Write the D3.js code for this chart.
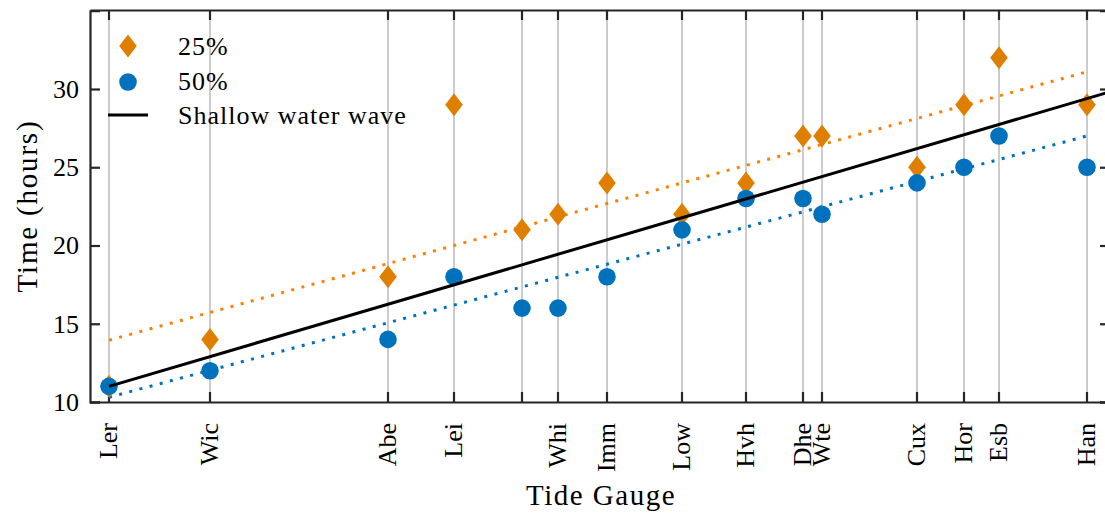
<!DOCTYPE html>
<html>
<head>
<meta charset="utf-8">
<script src="https://cdn.jsdelivr.net/npm/d3@7"></script>
<style>
  html, body { margin: 0; padding: 0; background: #fff; }
  svg { display: block; }
  text { font-family: "Liberation Serif", "Times New Roman", serif; fill: #000; }
</style>
</head>
<body>
<svg id="chart" width="1105" height="513"></svg>
<script>
// ---- data ----
const gauges   = ["Ler", "Wic", "Abe", "Lei", "", "Whi", "Imm", "Low", "Hvh", "Dhe", "Wte", "Cux", "Hor", "Esb", "Han"];
const distance = [0, 101, 279, 345, 413, 449, 498, 573, 637, 694, 713, 808, 855, 890, 978];
const time25   = [11, 14, 18, 29, 21, 22, 24, 22, 24, 27, 27, 25, 29, 32, 29];
const time50   = [11, 12, 14, 18, 16, 16, 18, 21, 23, 23, 22, 24, 25, 27, 25];
const fitX     = [0, 978];
const fit25    = [13.95, 31.1];
const fit50    = [10.3, 27.0];
const swX      = [0, 1001];
const swTime   = [11.0, 29.82];
const yTicks   = [10, 15, 20, 25, 30];
const legendLabels = ["25%", "50%", "Shallow water wave"];

// ---- layout ----
const svg = d3.select("#chart");
const L = 90, R = 1110, T = 10, B = 402;
const x = d3.scaleLinear().domain([-19, 1001]).range([L, R]);
const y = d3.scaleLinear().domain([10, 35]).range([B, T + 0.75]);

const cOrange = "#E07E00", cOrangeLine = "#FF8000", cBlue = "#0072BD", cAxis = "#262626";

svg.append("defs").append("clipPath").attr("id", "clip")
  .append("rect").attr("x", L).attr("y", T).attr("width", R - L).attr("height", B - T);

// grid lines
svg.append("g").selectAll("line").data(distance).join("line")
  .attr("x1", d => x(d)).attr("x2", d => x(d))
  .attr("y1", T).attr("y2", B)
  .attr("stroke", "#cccccc").attr("stroke-width", 2);

// axes
const gx = svg.append("g").attr("transform", `translate(0,${B})`)
  .call(d3.axisBottom(x).tickValues(distance).tickSize(0).tickFormat(""));
const gxTop = svg.append("g").attr("transform", `translate(0,${T})`)
  .call(d3.axisTop(x).tickValues(distance).tickSize(0).tickFormat(""));
const gy = svg.append("g").attr("transform", `translate(${L},0)`)
  .call(d3.axisLeft(y).tickValues(yTicks).tickSize(-10).tickPadding(11).tickFormat(d3.format("d")));
const gyR = svg.append("g").attr("transform", `translate(${R},0)`)
  .call(d3.axisRight(y).tickValues(yTicks).tickSize(-10).tickFormat(""));

[gx, gxTop, gy, gyR].forEach(g => {
  g.select(".domain").attr("stroke", cAxis).attr("stroke-width", 2.2);
  g.selectAll(".tick line").attr("stroke", cAxis).attr("stroke-width", 2.2);
});
gy.selectAll(".tick text").attr("font-size", 26).attr("font-family", "Liberation Serif").attr("fill", "#000");

// x ticks inward (bottom and top)
svg.append("g").selectAll("line").data(distance).join("line")
  .attr("x1", d => x(d)).attr("x2", d => x(d)).attr("y1", B).attr("y2", B - 10)
  .attr("stroke", cAxis).attr("stroke-width", 2.2);
svg.append("g").selectAll("line").data(distance).join("line")
  .attr("x1", d => x(d)).attr("x2", d => x(d)).attr("y1", T).attr("y2", T + 10)
  .attr("stroke", cAxis).attr("stroke-width", 2.2);

// x tick labels (rotated)
svg.append("g").selectAll("text").data(gauges.map((g, i) => ({g, d: distance[i]}))).join("text")
  .attr("transform", d => `translate(${x(d.d) + 8},423) rotate(-90)`)
  .attr("text-anchor", "end").attr("font-size", 26).text(d => d.g);

// axis titles
svg.append("text").attr("x", (L + R) / 2 + 1).attr("y", 505).attr("text-anchor", "middle")
  .attr("font-size", 29).attr("letter-spacing", 1.5).text("Tide Gauge");
svg.append("text").attr("transform", `translate(37,${(T + B) / 2}) rotate(-90)`)
  .attr("text-anchor", "middle").attr("font-size", 29).attr("letter-spacing", 1.8).text("Time (hours)");

const plot = svg.append("g").attr("clip-path", "url(#clip)");
const line = d3.line().x(d => x(d[0])).y(d => y(d[1]));

// fit lines (dotted)
plot.append("path").datum(fitX.map((d, i) => [d, fit25[i]])).attr("d", line)
  .attr("fill", "none").attr("stroke", cOrangeLine).attr("stroke-width", 3).attr("stroke-dasharray", "3 7.5");
plot.append("path").datum(fitX.map((d, i) => [d, fit50[i]])).attr("d", line)
  .attr("fill", "none").attr("stroke", cBlue).attr("stroke-width", 3).attr("stroke-dasharray", "3 7.5");

// markers
const diamond = "M0,-11.5L8.8,0L0,11.5L-8.8,0Z";
plot.append("g").selectAll("path").data(distance.map((d, i) => [d, time25[i]])).join("path")
  .attr("transform", d => `translate(${x(d[0])},${y(d[1])})`).attr("d", diamond).attr("fill", cOrange);
plot.append("g").selectAll("circle").data(distance.map((d, i) => [d, time50[i]])).join("circle")
  .attr("cx", d => x(d[0])).attr("cy", d => y(d[1])).attr("r", 8.8).attr("fill", cBlue);

// shallow water wave line
plot.append("path").datum(swX.map((d, i) => [d, swTime[i]])).attr("d", line)
  .attr("fill", "none").attr("stroke", "#000").attr("stroke-width", 3);

// legend
const lg = svg.append("g");
lg.append("path").attr("transform", "translate(128,46)").attr("d", diamond).attr("fill", cOrange);
lg.append("circle").attr("cx", 128).attr("cy", 82).attr("r", 8.8).attr("fill", cBlue);
lg.append("line").attr("x1", 108).attr("x2", 148).attr("y1", 115).attr("y2", 115)
  .attr("stroke", "#000").attr("stroke-width", 3);
lg.selectAll("text.lt").data(legendLabels).join("text").attr("class", "lt")
  .attr("x", 178).attr("y", (d, i) => 55 + i * 34.5)
  .attr("font-size", 26).attr("letter-spacing", 1).text(d => d);
</script>
</body>
</html>
